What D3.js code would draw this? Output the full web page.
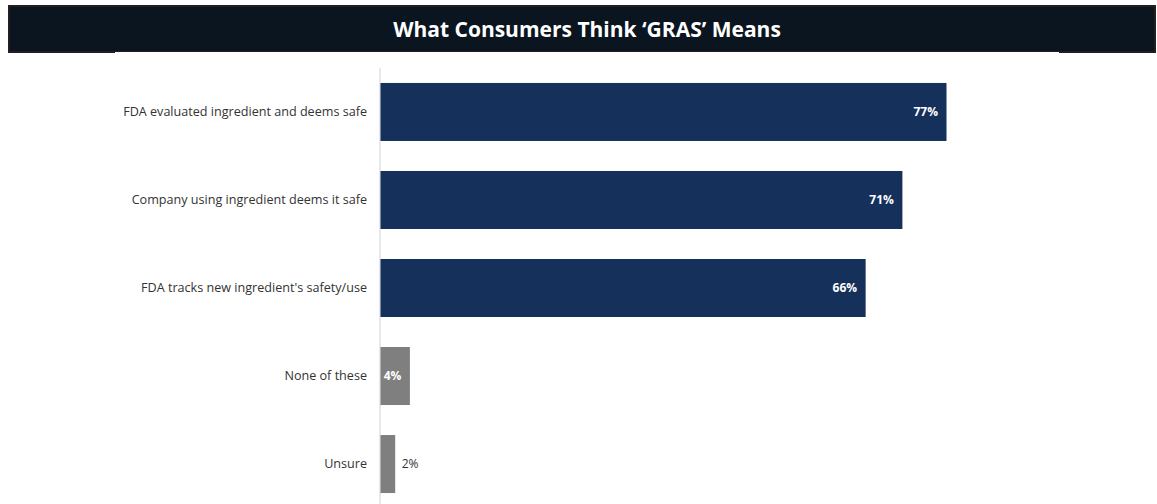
<!DOCTYPE html>
<html><head><meta charset="utf-8">
<script src="https://cdn.jsdelivr.net/npm/d3@7"></script>
<style>body{margin:0;background:#fff}svg{display:block}</style>
</head><body>
<script>
const title = "What Consumers Think ‘GRAS’ Means";
const categories = ["FDA evaluated ingredient and deems safe","Company using ingredient deems it safe","FDA tracks new ingredient's safety/use","None of these","Unsure"];
const values = [77,71,66,4,2];
const barColors = ["#15305a","#15305a","#15305a","#7f7f7f","#7f7f7f"];

const W=1157,H=504;
const svg=d3.select("body").append("svg").attr("width",W).attr("height",H);
// title bar
svg.append("rect").attr("x",8).attr("y",5).attr("width",W-9).attr("height",48).attr("fill","#231f20");
svg.append("rect").attr("x",10).attr("y",7).attr("width",W-13).attr("height",44).attr("fill","#0a1520");
svg.append("rect").attr("x",115).attr("y",52).attr("width",944).attr("height",3).attr("fill","#fff");
svg.append("text").attr("x",587).attr("y",37).attr("text-anchor","middle")
  .attr("font-family","Open Sans").attr("font-weight","bold").attr("font-size",21).attr("fill","#fff").text(title);

const x=d3.scaleLinear().domain([0,77]).range([380,946]);
const y=d3.scaleBand().domain(categories).range([68,508]).paddingInner(0.341).paddingOuter(0.17);

svg.append("line").attr("x1",380).attr("x2",380).attr("y1",68).attr("y2",H).attr("stroke","#d9d9d9").attr("stroke-width",1.2);

svg.selectAll("rect.bar").data(values).join("rect").attr("class","bar")
  .attr("x",x(0)+0.5).attr("y",(d,i)=>y(categories[i])).attr("height",y.bandwidth())
  .attr("width",d=>x(d)-x(0)).attr("fill",(d,i)=>barColors[i]);

svg.selectAll("text.cat").data(categories).join("text").attr("class","cat")
  .attr("x",367).attr("y",d=>y(d)+y.bandwidth()/2).attr("dy","0.35em").attr("text-anchor","end")
  .attr("font-family","Open Sans").attr("font-size",12.6).attr("fill","#333").text(d=>d);

svg.selectAll("text.val").data(values).join("text").attr("class","val")
  .attr("x",d=>d>=3? x(d)-8 : x(d)+7)
  .attr("y",(d,i)=>y(categories[i])+y.bandwidth()/2).attr("dy","0.35em")
  .attr("text-anchor",d=>d>=3?"end":"start")
  .attr("font-family","Open Sans").attr("font-weight",d=>d>=3?"bold":"normal").attr("font-size",12)
  .attr("fill",d=>d>=3?"#fff":"#333").text(d=>d+"%");
</script>
</body></html>
